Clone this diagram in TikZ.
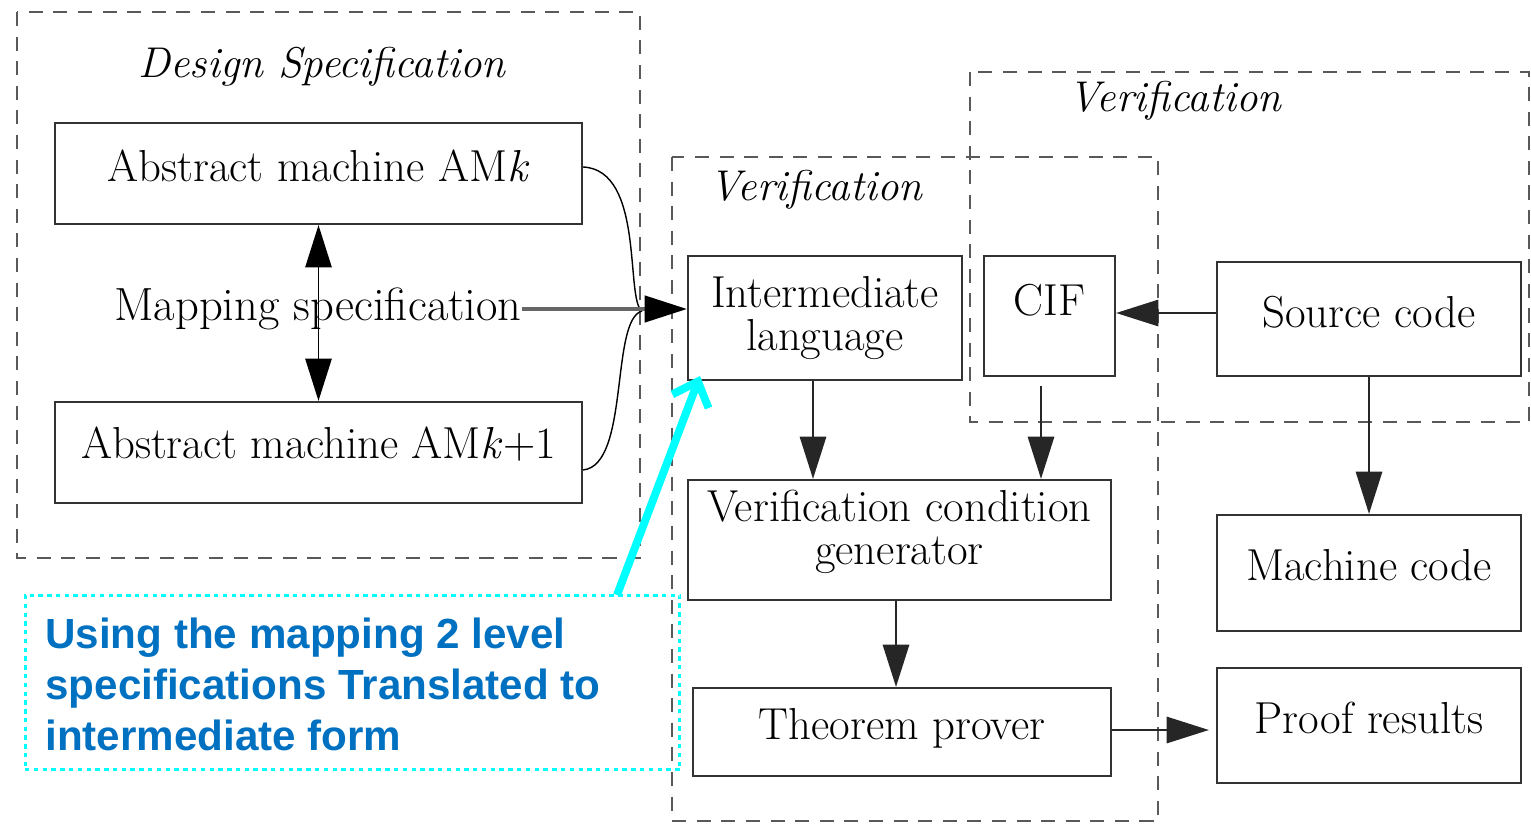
\documentclass[tikz,border=0pt]{standalone}
\usepackage{fontspec}
\newfontfamily\calloutfont{Liberation Sans}
\usetikzlibrary{arrows.meta}
\definecolor{callblue}{RGB}{0,112,192}
\definecolor{callcyan}{RGB}{0,255,255}
\newcommand{\up}[2]{\raisebox{#1}{#2}}
\tikzset{
  boxtext/.style={inner sep=0pt, align=center, font=\fontsize{25.5}{24.5}\selectfont},
  box/.style={boxtext, draw=black!80, line width=1.3pt},
  group/.style={draw=black!65, line width=1.2pt, dash pattern=on 8pt off 6pt},
  grouptitle/.style={font=\fontsize{24.5}{26}\selectfont\itshape},
  arr/.style={line width=1pt, draw=black!85, -{Triangle[length=24pt,width=15pt]}},
  callarrow/.style={draw=callcyan, line width=4.5pt, -{Straight Barb[length=12pt,width=22pt]}},
}
\begin{document}
\begin{tikzpicture}[x=0.02cm,y=-0.02cm]
\useasboundingbox (0,0) rectangle (1531,824);
% groups
\draw[group] (17,12) rectangle (640,558);
\draw[group] (672,157) rectangle (1158,821);
\draw[group] (970,72) rectangle (1529,422);
\node[grouptitle] (tds) at (322,67) {Design Specification};
\node[grouptitle] (tv1) at (816,190) {Verification};
\node[grouptitle] (tv2) at (1175,101) {Verification};
% boxes
\node[box, minimum width=10.54cm, minimum height=2.02cm] (amk) at (318.5,173.5) {\up{0.3cm}{Abstract machine AM\textit{k}}};
\node[box, minimum width=10.54cm, minimum height=2.02cm] (amk1) at (318.5,452.5) {\up{0.4cm}{Abstract machine AM\textit{k}+1}};
\node[font=\fontsize{26.5}{28}\selectfont, inner sep=0pt] (map) at (318,309) {Mapping specification};
\node[box, minimum width=5.48cm, minimum height=2.48cm] (il) at (825,318) {Intermediate\\language};
\node[box, minimum width=2.62cm, minimum height=2.4cm] (cif) at (1049.5,316) {\up{0.64cm}{CIF}};
\node[box, minimum width=6.08cm, minimum height=2.28cm] (src) at (1369,319) {\up{0.3cm}{Source code}};
\node[box, minimum width=8.46cm, minimum height=2.4cm] (vcg) at (899.5,540) {};
\node[boxtext] (vcgt) at (899.5,532) {Verification condition\\generator};
\node[box, minimum width=8.36cm, minimum height=1.76cm] (tp) at (902,732) {\up{0.32cm}{Theorem prover}};
\node[box, minimum width=6.08cm, minimum height=2.32cm] (mc) at (1369,573) {\up{0.32cm}{Machine code}};
\node[box, minimum width=6.08cm, minimum height=2.3cm] (pr) at (1369,725.5) {\up{0.3cm}{Proof results}};
% mapping arrows
\draw[line width=0.8pt, {Triangle[length=24pt,width=15pt]}-{Triangle[length=24pt,width=15pt]}] (amk.south) -- (amk1.north);
\coordinate (join) at (642,311);
\draw[line width=0.8pt] (amk.east |- 0,167) .. controls (645,170) and (625,300) .. (join);
\draw[line width=0.8pt] (amk1.east |- 0,470) .. controls (630,465) and (610,320) .. (join);
\draw[line width=1.8pt, draw=black!60, -{Triangle[length=24pt,width=15pt,fill=black,color=black]}] (map.east) -- (map.east -| il.west);
% verification arrows
\draw[arr] ([xshift=-0.24cm]il.south) -- ([xshift=-0.24cm]il.south |- vcg.north);
\draw[arr] ([xshift=-0.17cm,yshift=-0.18cm]cif.south) -- ([xshift=-0.17cm]cif.south |- vcg.north);
\draw[arr] ([xshift=-0.07cm]vcg.south) -- ([xshift=-0.07cm]vcg.south |- tp.north);
\draw[arr] ([yshift=0.12cm]src.west) -- ([yshift=0.12cm]src.west -| cif.east);
\draw[arr] (src.south) -- (mc.north);
\draw[arr] ([yshift=0.04cm]tp.east) -- ([yshift=0.04cm,xshift=-0.14cm]tp.east -| pr.west);
% callout
\node[draw=callcyan, line width=1.7pt, dash pattern=on 2.5pt off 2.5pt, minimum width=13.1cm, minimum height=3.5cm, inner sep=0pt] (call) at (352.5,682.5) {};
\node[anchor=west, align=left, text=callblue, inner sep=0pt, font=\calloutfont\bfseries\fontsize{24}{29}\selectfont] (calltext) at (45,684) {Using the mapping 2 level\\specifications Translated to\\intermediate form};
\coordinate (ctail) at (617,595);
\coordinate (chead) at (700,376);
\draw[callarrow] (ctail) -- (chead);
\end{tikzpicture}
\end{document}
